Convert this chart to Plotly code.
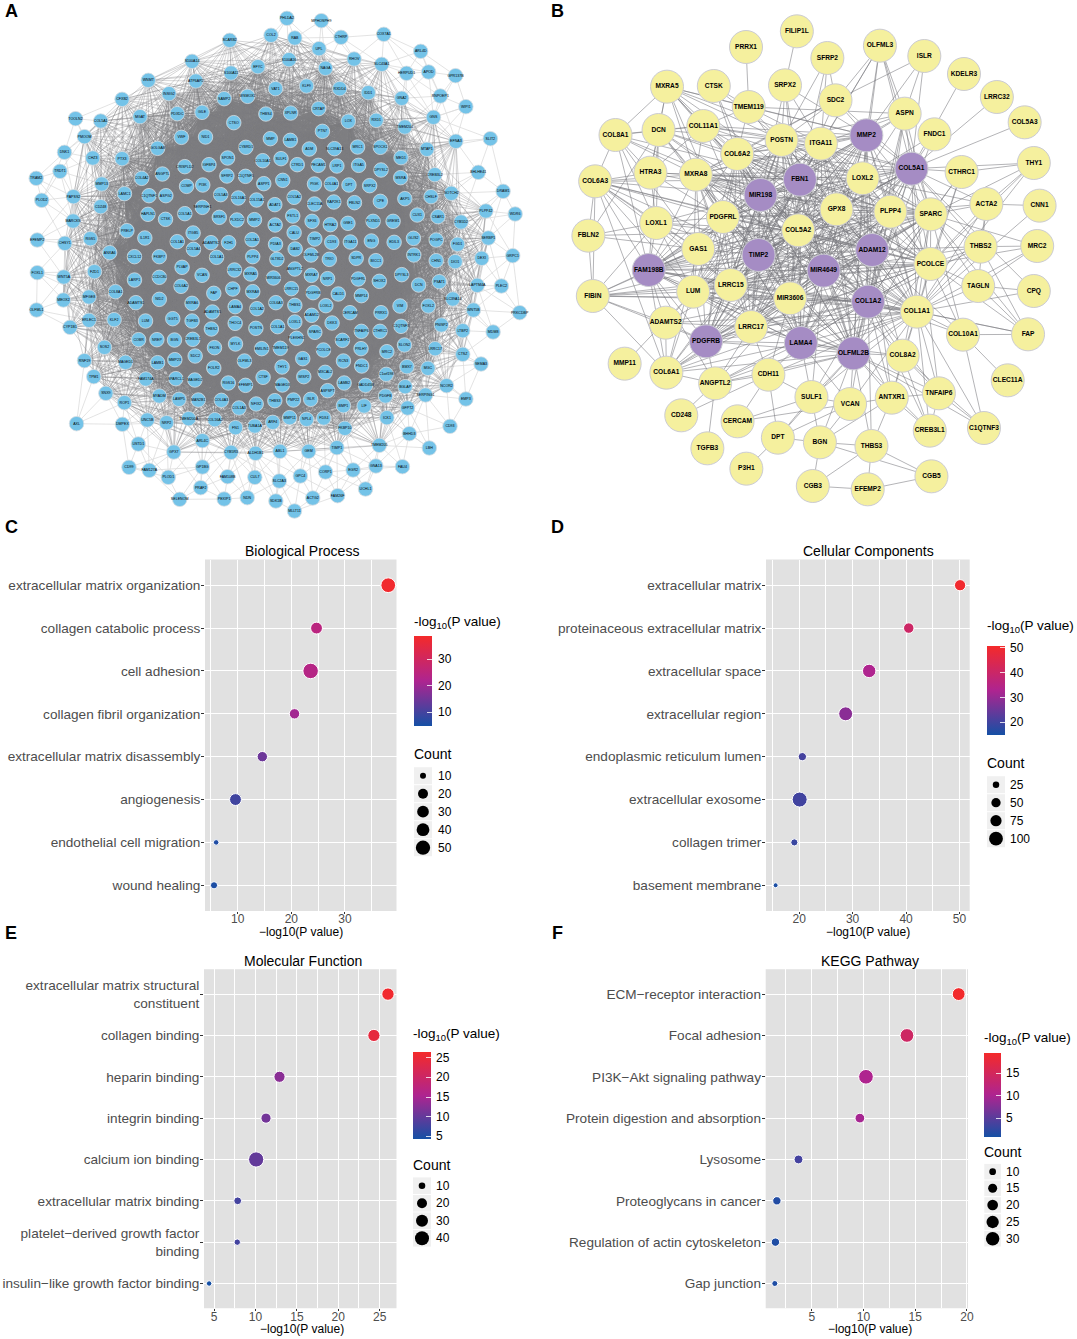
import numpy as np
import plotly.graph_objects as go

PAGE_W = 1077
PAGE_H = 1339

# ---- panel A nodes (crop px, top half)
a_top_names = ["PHLDA2","MPHOSPH9","COL2","RAB","COX7A1","CTHRP","SCARB2","UPL","ARL4D","RHOV",
    "S100A16","S100A14","SLC43A1","EFYC","NAGA","S100A11","HERPUD1","APOD","GPR137B","WNMT",
    "ATP6AP2","KLF9","VAT1","RXDD4","IDD1","INSIG2","RNPOEP1","WSMOX1","SAMP2","GNA2",
    "CFXB2","WIPI1","CRTAP","GILE","XPLNR","PDXDC","THBS4","MGAT","GNS","TOOLN2",
    "RXD1","COL5A1","LOX","CTSO","TMEM204","PTN7","PMOOM","NID1","VWF","SLIT2",
    "MMP","LAMB1","EFNA3","MRC1","SPOCK1","CYBRD1","GOLGA8","ADM","SLC39A13","MTAP1",
    "DNK1","SPON1","MED1","PTX3","CHZ3","COL10A1","SULF1","CTRD1","PECAM1","LRP1",
    "ITGA5","IGFBP4","DPYSL2","CRISPLD2","TRDT1","CREB3L2","BHLHE41","ANGPTL","COL4A2","TRAM2",
    "MSRA","SFRP2","C1QTNF5","CNN1","ASPP1","DPT","COL4A1","PIGK","SRPX2","PI3K",
    "COMP","MMP13","DRAM1","CHSLF","NOTCH2","AKP5","CPE","FBLN2","RAP2K1","CLEC11A",
    "COL5A2","ADAT1","COL15A1","COL16A1","COL5A3","SERPINH1","ASPG2","C1QTNF1","LAMC1","PAPSS2",
    "PLOD2","CD248","PLPP42","WDR6","CYB5D2","CSAR1","CUX1","GREM1","PLXND1","GSE1",
    "HTRA2","SFX6","FSTL1","ACTA2","MMP2","PLXDC2","BRSF1","COL5A1","CTSK","HAPLN1",
    "MARCKS","PRELP","SERBP1","CALU","ITGB5","EFEMP2","RGS5","CHSY1","IL1R1","COL1A1",
    "ADAMTS2","F2H1","COL2A1","PDIA3","TIMP2","CD93","ITGA11","ENG","EDIL3","GLIS2",
    "POGPC","FGD1","DAB2","COL5A4","ANXA6","CXCL12","FKBP7","COL1A1","PLPP4","GLT8D2",
    "OLFML2B","TRIO","SDPR","BICC1","INTRK1","CHN1","DIO1","DEXI","GRPC1"]
a_top_x = [832,932,786,855,1113,989,666,925,1220,1027,
    838,557,1107,748,944,670,1179,1243,1321,430,
    568,889,799,985,1068,490,1277,718,650,1165,
    354,1351,924,586,843,514,771,406,1257,219,
    1091,292,1010,678,1174,935,245,596,526,1422,
    784,842,1322,1037,1103,713,457,897,970,1238,
    187,660,1163,354,269,762,815,862,923,977,
    1040,606,1105,536,174,1261,1387,471,411,105,
    1162,658,712,820,765,1012,961,912,1072,588,
    541,295,1459,1250,1309,1174,1103,1028,968,912,
    853,797,744,691,640,587,481,432,361,213,
    121,292,1409,1494,1337,1270,1210,1140,1082,1009,
    958,905,849,798,738,687,636,536,480,429,
    212,368,1416,853,560,108,262,188,420,514,
    612,663,731,799,913,962,1016,1077,1143,1199,
    1265,1327,856,561,318,390,462,628,733,803,
    902,955,1033,1090,1200,1265,1320,1397,1487]
a_top_y = [55,62,106,114,103,112,121,146,154,177,
    179,184,193,200,205,219,220,216,227,241,
    243,258,266,266,278,281,288,289,296,295,
    298,320,326,337,339,341,342,350,352,356,
    361,363,364,368,381,394,410,411,412,416,
    416,421,424,441,442,442,445,447,446,448,
    457,474,473,476,474,482,476,494,496,498,
    496,494,510,500,514,524,517,522,535,535,
    533,528,529,541,551,555,552,552,557,555,
    559,552,574,590,580,596,604,608,606,612,
    592,614,600,594,584,622,587,587,581,590,
    601,620,633,642,666,650,645,664,664,670,
    674,664,648,675,659,660,652,641,658,643,
    663,692,714,698,699,720,716,730,714,725,
    728,728,719,733,717,727,726,723,727,715,
    720,733,747,748,758,770,770,772,770,778,
    765,778,775,782,765,782,785,775,767]

# bottom half, y counted from the second crop
a_bot_names = ["FOXL1","WNT5A","FZD1","LARP1","CCDC80","PLVAP","VCAN","LRRC32","MXRA5","MIR3606",
    "ANGPTL2","MXRA7","NRP1","PDGFRL","SHOX2","DPYSL3","DCN","PSAT1","LAPTM4A","PLEC2",
    "COL6A2","COL8A1","MEOX2","MFGE8","MXRA8","FAP","CHPF","LRRC15","PDGFRB","CALD1",
    "MMP14","SLC39A14","NID2","ADAMTS1","MXRA6","COL6A3","THBS1","LOXL2","VIM","FOXL2",
    "OLFML1","WNT5B","ADAMTS5","LAMA4","COL1A2","PRRX1","CERCAM","PRKCDBP","ADAM12","GGT5",
    "TGFB3","KLF2","LUM","ERLEC1","LOXL1","DKK3","THOC4","CYP1B1","COL1A1","POSTN",
    "THBS2","PNISP2","LTBP2","C1QTNF3","MDM8","TNFAIP6","CTHRC1","SPARC","CREB3L1","COBR",
    "NREP","BGN","PLEKHN1","SCARF2","FKON","MYLK","SLON2","SOS2","LRRC17","EMILIN1",
    "TMEM119","PCOLCE","PRLHY","MRC2","CTSZ","SDC2","RNF19","MMP23","MAGED1","LAMB1",
    "OLFML3","GAS1","RCN3","FNDC1","SEMA3","BMX7","FOLR2","THY1","MXCAL2","MGC",
    "SPARCL1","MAGED2","FAM174A","TPM1","CTSF","WISP2","C1orf198","RGS16","EFEMP1","LAMB2",
    "GADD45B","MAGED3","NCOR2","ASPSPT","BGLAP","PDGFB","SERPING1","SNX9","MYADM","ROP1",
    "LAMP5","MAN2B1","COL4A3","NFIX2","THBS3","PMP22","ISLR","BMP1","LIF","GFPT2",
    "EMP3","COL1A3","UNC5B","TMEM200A","COL16A2","NRP2","MMP11","NPL4","FDX4","ARF4",
    "TUBA1A","FN1","AXL","DMPEX","ICK1","FKBP10","CD93","BHHD3","USTD1","ARL4C",
    "GPX7","CYB5R3","ALDH1B1","ABL1","GEM","TIMP1","TMEM205","LBH","FAU4","GNA13",
    "EGR2","CORP1","GPC4","CD99","FAM127A","PLOD1","GP1BG","FAM108B","CUL7","SLC2A3",
    "PRAF2","UCHL1","FAM26F","ACTG2","SDK1B","NDN","PEXIP1","SELENOM","MLLT11"]
a_bot_x = [108,185,274,390,462,528,586,680,727,793,
    855,903,950,1039,1100,1165,1214,1274,1384,1454,
    525,335,184,258,733,620,675,845,908,981,
    1048,1313,462,394,557,800,855,945,1160,1242,
    106,1373,616,682,745,1105,1015,1507,904,501,
    557,331,422,258,855,963,682,203,805,742,
    613,1280,1342,1163,1430,1048,1102,913,559,402,
    455,506,860,993,622,683,1173,303,1262,759,
    813,938,1047,1122,1342,566,245,507,364,457,
    709,878,996,1049,1395,1180,620,818,943,1241,
    510,565,423,272,763,881,1120,662,712,998,
    1060,819,1295,950,1175,1118,1234,307,462,361,
    519,575,642,743,797,851,901,996,1056,1182,
    1351,693,427,547,623,483,840,889,939,791,
    739,683,222,355,1122,1000,1305,1187,401,587,
    504,670,741,812,895,977,1100,1245,1167,1090,
    1024,944,871,374,433,488,587,660,739,810,
    582,1060,979,907,800,717,650,521,854]
a_bot_y = [38,51,35,60,52,22,46,30,42,54,
    27,46,56,57,64,44,75,65,76,78,
    79,95,120,111,95,100,87,86,98,102,
    107,117,118,128,130,128,136,137,138,138,
    150,150,156,140,146,158,158,158,166,176,
    183,179,183,181,186,189,190,202,200,205,
    207,195,212,199,216,214,214,217,238,239,
    239,240,235,241,263,252,255,262,266,266,
    265,270,266,275,283,288,302,299,307,308,
    303,296,303,318,312,320,324,321,337,325,
    356,360,357,350,352,350,343,369,376,369,
    376,375,377,392,380,408,405,400,408,428,
    418,420,421,432,422,420,418,437,438,444,
    417,444,480,476,479,488,473,478,474,487,
    498,503,491,493,473,505,499,521,552,542,
    576,577,580,574,574,563,556,564,620,618,
    630,636,648,622,631,652,621,650,652,663,
    683,687,707,714,723,713,717,718,753]

# ---- panel B nodes (crop px)
b_top_names = ["FILIP1L","PRRX1","SFRP2","OLFML3","ISLR","KDELR3","LRRC32","COL5A3","SRPX2","SDC2",
    "MXRA5","CTSK","TMEM119","ASPN","COL8A1","DCN","COL11A1","POSTN","ITGA11","MMP2",
    "FNDC1","COL6A2","COL5A1","CTHRC1","THY1","FBN1","LOXL2","COL6A3","HTRA3","MXRA8",
    "MIR198","GPX8","PLPP4","SPARC","ACTA2","CNN1","PDGFRL","LOXL1","COL5A2","FBLN2",
    "GAS1","TIMP2","ADAM12","THBS2","MRC2"]
b_top_x = [743,593,833,988,1119,1236,1333,1415,708,857,
    360,498,601,1061,208,335,467,698,814,948,
    1149,567,1081,1229,1442,752,937,148,311,445,
    636,860,1019,1138,1302,1459,525,328,747,128,
    452,630,965,1285,1452]
b_top_y = [94,141,174,137,168,222,291,367,256,301,
    260,258,321,341,405,390,378,420,431,406,
    403,462,506,516,489,539,535,544,518,524,
    585,628,635,643,612,617,651,669,691,707,
    747,765,750,740,738]
b_bot_names = ["MIR4649","FAM198B","PCOLCE","TAGLN","CPQ","FIBIN","LUM","LRRC15","MIR3606","COL1A2",
    "COL1A1","ADAMTS2","LRRC17","FAP","COL10A1","PDGFRB","LAMA4","OLFML2B","COL8A2","MMP11",
    "COL6A1","CDH11","ANGPTL2","CLEC11A","SULF1","VCAN","ANTXR1","TNFAIP6","CD248","CERCAM",
    "CREB3L1","C1QTNF3","DPT","TGFB3","BGN","THBS3","P3H1","CGB5","CGB3","EFEMP2"]
b_bot_x = [822,306,1137,1278,1442,141,437,548,723,953,
    1097,356,608,1425,1233,475,755,910,1055,235,
    358,659,502,1365,786,900,1023,1162,402,568,
    1135,1295,687,479,811,963,594,1140,790,952]
b_bot_y = [32,30,12,78,93,108,95,75,115,125,
    155,188,201,223,224,244,249,280,287,311,
    338,344,370,361,411,432,413,400,466,484,
    512,504,533,565,547,558,626,649,678,688]
b_hubs = ["MMP2","COL5A1","FBN1","MIR198","TIMP2","ADAM12","MIR4649","FAM198B","COL1A2","PDGFRB","LAMA4","OLFML2B"]

# edges that can be followed by eye around the rim of B
b_edges = """FILIP1L-SRPX2 PRRX1-TMEM119 SFRP2-POSTN SFRP2-ITGA11 SFRP2-SDC2 SFRP2-FBN1
OLFML3-SDC2 OLFML3-ASPN OLFML3-MMP2 OLFML3-ITGA11 OLFML3-COL5A1 OLFML3-LOXL2 OLFML3-SPARC OLFML3-FBN1
ISLR-SDC2 ISLR-ASPN ISLR-MMP2 ISLR-COL5A1 KDELR3-COL5A1 LRRC32-COL5A1 COL5A3-COL5A1
FNDC1-COL5A1 FNDC1-COL1A2 FNDC1-LOXL2 SRPX2-POSTN SRPX2-COL5A2 SRPX2-FBN1 SRPX2-ITGA11 SRPX2-MIR198 SRPX2-MMP2
SDC2-MMP2 SDC2-POSTN SDC2-FBN1 SDC2-COL6A2 SDC2-COL5A1 SDC2-MXRA8
MXRA5-COL8A1 MXRA5-DCN MXRA5-COL11A1 MXRA5-HTRA3 MXRA5-MXRA8 MXRA5-TMEM119 MXRA5-POSTN MXRA5-COL6A2
MXRA5-ITGA11 MXRA5-MMP2 MXRA5-FBN1 MXRA5-PDGFRL MXRA5-COL5A2 MXRA5-MIR198
CTSK-TMEM119 CTSK-POSTN CTSK-COL6A2 CTSK-MIR198 TMEM119-POSTN TMEM119-ITGA11 TMEM119-MMP2 TMEM119-ASPN
TMEM119-COL11A1 TMEM119-COL6A2 TMEM119-FBN1 ASPN-MMP2 ASPN-COL5A1 ASPN-SPARC ASPN-LOXL2 ASPN-PLPP4 ASPN-FBN1
ASPN-ITGA11 ASPN-POSTN ASPN-COL1A2 ASPN-ADAM12 COL8A1-DCN COL8A1-COL11A1 COL8A1-COL6A3 COL8A1-HTRA3 COL8A1-MXRA8
COL8A1-MIR198 COL8A1-FAM198B COL8A1-LOXL1 COL8A1-GAS1 COL8A1-FBN1 DCN-COL11A1 DCN-HTRA3 DCN-MXRA8 DCN-COL6A2
DCN-COL5A2 DCN-POSTN DCN-MIR198 DCN-LOXL1 DCN-FBN1 DCN-TIMP2 DCN-PDGFRL DCN-FBLN2 DCN-FAM198B
COL11A1-COL6A2 COL11A1-POSTN COL11A1-ITGA11 COL11A1-FBN1 COL11A1-MXRA8 COL11A1-MIR198 COL11A1-COL5A2 COL11A1-LOXL2
COL11A1-MMP2 COL11A1-HTRA3 COL11A1-TIMP2 COL11A1-COL1A2 COL6A3-HTRA3 COL6A3-MXRA8 COL6A3-LOXL1 COL6A3-FBLN2
COL6A3-PDGFRL COL6A3-GAS1 COL6A3-TIMP2 COL6A3-FAM198B COL6A3-MIR198 COL6A3-FBN1 COL6A3-LUM COL6A3-LRRC15
COL6A3-COL5A2 COL6A3-ADAM12 COL6A3-COL6A1 HTRA3-MXRA8 HTRA3-LOXL1 HTRA3-PDGFRL HTRA3-MIR198 HTRA3-FBN1
FBLN2-LOXL1 FBLN2-GAS1 FBLN2-COL5A2 FBLN2-FIBIN LOXL1-FAM198B LOXL1-GAS1 LOXL1-TIMP2 LOXL1-LUM LOXL1-MIR198
LOXL1-PDGFRL LOXL1-COL5A2 LOXL1-LRRC15 LOXL1-ADAM12 GAS1-TIMP2 GAS1-LUM GAS1-LRRC15 GAS1-MIR198 GAS1-FAM198B
GAS1-PDGFRL GAS1-COL6A1 GAS1-COL5A2 FIBIN-FAM198B FIBIN-LUM FIBIN-LRRC15 FIBIN-MIR3606 FIBIN-GAS1 FIBIN-LOXL1
FIBIN-COL6A3 FIBIN-ADAMTS2 FIBIN-COL6A1 FIBIN-TIMP2 FIBIN-COL1A2 FIBIN-MIR4649 FIBIN-PDGFRB MMP11-LUM
ADAMTS2-LUM ADAMTS2-FAM198B ADAMTS2-PDGFRB ADAMTS2-LRRC17 ADAMTS2-LRRC15 ADAMTS2-COL6A1 ADAMTS2-MIR3606 ADAMTS2-COL1A1
COL6A1-PDGFRB COL6A1-LUM COL6A1-LRRC17 COL6A1-LAMA4 COL6A1-MIR3606 COL6A1-FAM198B COL6A1-LRRC15 COL6A1-OLFML2B
COL6A1-COL1A2 COL6A1-TIMP2 COL6A1-MIR4649 COL6A1-ANGPTL2 ANGPTL2-PDGFRB ANGPTL2-LRRC17 ANGPTL2-LAMA4 ANGPTL2-CDH11
ANGPTL2-CD248 ANGPTL2-TGFB3 ANGPTL2-MIR3606 ANGPTL2-COL1A2 ANGPTL2-COL1A1 ANGPTL2-OLFML2B ANGPTL2-FAM198B
CDH11-LAMA4 CDH11-LRRC17 CDH11-DPT CDH11-CERCAM CDH11-OLFML2B CDH11-SULF1 CDH11-COL1A1 CDH11-MIR3606 CDH11-CD248
CERCAM-SULF1 CERCAM-VCAN SULF1-LAMA4 SULF1-OLFML2B SULF1-VCAN SULF1-BGN SULF1-DPT SULF1-COL1A2 SULF1-MIR4649 SULF1-COL1A1
VCAN-OLFML2B VCAN-BGN VCAN-LAMA4 VCAN-COL1A2 VCAN-COL1A1 VCAN-ANTXR1 DPT-BGN DPT-P3H1 DPT-VCAN DPT-OLFML2B
BGN-THBS3 BGN-CGB3 BGN-OLFML2B BGN-ANTXR1 BGN-CGB5 THBS3-CGB3 THBS3-EFEMP2 THBS3-CGB5 THBS3-ANTXR1 THBS3-OLFML2B
THBS3-COL1A2 CGB3-EFEMP2 EFEMP2-CGB5 ANTXR1-OLFML2B ANTXR1-COL1A1 ANTXR1-COL8A2 ANTXR1-CREB3L1 ANTXR1-TNFAIP6
ANTXR1-COL1A2 ANTXR1-MIR4649 ANTXR1-ADAM12 COL8A2-COL1A1 COL8A2-COL1A2 COL8A2-OLFML2B COL8A2-TNFAIP6 COL8A2-CREB3L1
COL8A2-LAMA4 COL8A2-MIR4649 COL8A2-C1QTNF3 COL8A2-ADAM12 COL8A2-SPARC TNFAIP6-OLFML2B TNFAIP6-COL1A1 TNFAIP6-C1QTNF3
TNFAIP6-CREB3L1 TNFAIP6-COL1A2 TNFAIP6-COL5A1 CREB3L1-OLFML2B CREB3L1-COL1A1 CREB3L1-COL1A2 C1QTNF3-COL10A1
C1QTNF3-COL1A1 C1QTNF3-OLFML2B CLEC11A-COL10A1 COL10A1-COL1A1 COL10A1-PCOLCE COL10A1-FAP COL10A1-SPARC COL10A1-COL1A2
COL10A1-ADAM12 FAP-COL1A1 FAP-PCOLCE FAP-TAGLN FAP-THBS2 FAP-COL1A2 FAP-SPARC CPQ-TAGLN CPQ-COL1A1 CPQ-COL5A1
TAGLN-PCOLCE TAGLN-COL1A1 TAGLN-MRC2 TAGLN-SPARC TAGLN-ACTA2 MRC2-THBS2 MRC2-COL1A1 MRC2-PCOLCE MRC2-SPARC
THBS2-PCOLCE THBS2-SPARC THBS2-ACTA2 THBS2-COL1A1 THBS2-ADAM12 THBS2-COL5A1 THBS2-COL1A2 THBS2-MIR4649
ACTA2-CNN1 ACTA2-SPARC ACTA2-THY1 ACTA2-PCOLCE ACTA2-COL1A1 ACTA2-COL5A1 ACTA2-LOXL2 ACTA2-PLPP4 THY1-SPARC
THY1-CTHRC1 THY1-COL1A1 THY1-COL5A1 THY1-PCOLCE CNN1-COL1A1 CTHRC1-COL5A1 CTHRC1-SPARC CTHRC1-COL1A1 CTHRC1-COL1A2 CTHRC1-PCOLCE""".split()
# the middle of B is too tangled to follow, so this group is linked all to all
b_core = ["FBN1","MIR198","TIMP2","MIR4649","COL1A2","ADAM12","COL5A1","MMP2","LOXL2","GPX8",
    "COL5A2","MIR3606","LRRC15","LUM","LRRC17","LAMA4","OLFML2B","PDGFRB","FAM198B","PDGFRL",
    "PLPP4","SPARC","PCOLCE","COL1A1","COL6A2","POSTN","ITGA11","MXRA8"]

# ---- dot plots
c_terms = ["extracellular matrix organization","collagen catabolic process","cell adhesion","collagen fibril organization",
    "extracellular matrix disassembly","angiogenesis","endothelial cell migration","wound healing"]
c_values = [38.06,24.7,23.6,20.6,14.6,9.6,6.0,5.6]
c_counts = [45,24,50,18,18,24,6,10]
d_terms = ["extracellular matrix","proteinaceous extracellular matrix","extracellular space","extracellular region",
    "endoplasmic reticulum lumen","extracellular exosome","collagen trimer","basement membrane"]
d_values = [50.1,40.5,33.1,28.7,20.6,20.1,19.1,15.6]
d_counts = [60,50,85,90,30,110,22,10]
e_terms = ["extracellular matrix structural<br>constituent","collagen binding","heparin binding","integrin binding",
    "calcium ion binding","extracellular matrix binding","platelet\u2212derived growth factor<br>binding","insulin\u2212like growth factor binding"]
e_values = [26.0,24.3,12.9,11.27,10.08,7.85,7.8,4.4]
e_counts = [26,25,20,17,40,10,7,5]
f_terms = ["ECM\u2212receptor interaction","Focal adhesion","PI3K\u2212Akt signaling pathway","Protein digestion and absorption",
    "Lysosome","Proteoglycans in cancer","Regulation of actin cytoskeleton","Gap junction"]
f_values = [19.2,14.2,10.24,9.65,3.72,1.63,1.49,1.43]
f_counts = [23,26,31,14,12,11,11,6]

FONT = "Liberation Sans"
SCALE = [[0, "#1550a5"], [0.5, "#ae2490"], [1, "#f42a2a"]]

fig = go.Figure()


def overlay_text(x, y, text, size, color="black", anchor="left", bold=False):
    if bold:
        text = "<b>" + text + "</b>"
    if anchor == "left":
        x = x - 2.5
    fig.add_annotation(xref="x5", yref="y5", x=x, y=y, text=text, showarrow=False, xanchor=anchor, yanchor="middle",
                       font=dict(family=FONT, size=size, color=color))


def add_panel(n, terms, values, counts, panel, xrange, xticks, minor, cbar, legend, titles):
    left, right, top, bottom = panel
    xname = "xaxis" if n == 1 else "xaxis%d" % n
    yname = "yaxis" if n == 1 else "yaxis%d" % n
    ref = "" if n == 1 else str(n)
    # legend keys set the size scale, dots below the smallest key run down to a small anchor
    diam = np.interp(counts, [0] + legend["counts"], [2] + legend["diams"])
    cx0, cx1, cy0, cy1, cmin, cmax, cticks = cbar
    fig.add_trace(go.Scatter(x=values, y=terms, xaxis="x" + ref, yaxis="y" + ref, mode="markers", showlegend=False,
        marker=dict(size=diam + 1.2, color=values, colorscale=SCALE, cmin=cmin, cmax=cmax, opacity=1, line=dict(color="white", width=1),
            colorbar=dict(x=cx0 / PAGE_W, xanchor="left", y=1 - cy0 / PAGE_H, yanchor="top", len=(cy1 - cy0) / PAGE_H,
                thickness=cx1 - cx0, xpad=0, ypad=0, outlinewidth=0, tickvals=cticks, ticks="inside", ticklen=5,
                tickcolor="rgba(255,255,255,0.8)", showticklabels=False))))
    fig.update_layout({
        xname: dict(domain=[left / PAGE_W, right / PAGE_W], range=xrange, tickvals=xticks, anchor="y" + ref,
                    showgrid=True, gridcolor="white", gridwidth=1.3, zeroline=False, showline=False, ticks="outside",
                    ticklen=2, tickcolor="#333333", ticklabelstandoff=-5, tickfont=dict(family=FONT, size=12, color="#4d4d4d"),
                    minor=dict(tickvals=minor, showgrid=True, gridcolor="white", gridwidth=0.6, ticks="")),
        yname: dict(domain=[1 - bottom / PAGE_H, 1 - top / PAGE_H], type="category", categoryorder="array",
                    categoryarray=terms, range=[7.6, -0.6], anchor="x" + ref, showgrid=True, gridcolor="white",
                    gridwidth=1.3, zeroline=False, showline=False, ticks="outside", ticklen=3, tickcolor="#333333",
                    ticklabelstandoff=-2, tickfont=dict(family=FONT, size=13.6, color="#4d4d4d")),
    })
    fig.add_shape(type="rect", xref="x%s domain" % ref, yref="y%s domain" % ref, x0=0, x1=1, y0=0, y1=1,
                  fillcolor="#e1e1e1", line_width=0, layer="below")
    # titles
    overlay_text(titles["tx"], titles["ty"], titles["title"], 14, anchor="center")
    overlay_text(titles["lx"], titles["ly"], "\u2212log10(P value)", 12, anchor="center")
    overlay_text(cx0, titles["cy"], "-log<sub>10</sub>(P value)", 13.5)
    overlay_text(cx0, titles["ky"], "Count", 14)
    # colour bar labels, same column as the size legend labels
    for v in cticks:
        overlay_text(legend["lx"], cy1 - (v - cmin) / (cmax - cmin) * (cy1 - cy0), str(v), 12)
    # size legend
    kh = legend["ys"][1] - legend["ys"][0]
    for y in legend["ys"]:
        fig.add_shape(type="rect", xref="x5", yref="y5", x0=cx0, x1=cx1, y0=y - kh / 2 + 0.5, y1=y + kh / 2 - 0.5,
                      fillcolor="#f0f0f0", line_width=0, layer="below")
    fig.add_trace(go.Scatter(x=[(cx0 + cx1) / 2] * len(legend["ys"]), y=legend["ys"], xaxis="x5", yaxis="y5", mode="markers",
                             showlegend=False, marker=dict(size=legend["diams"], color="black", opacity=1, line_width=0)))
    for y, c in zip(legend["ys"], legend["counts"]):
        overlay_text(legend["lx"], y, str(c), 12)


add_panel(1, c_terms, c_values, c_counts, (205, 396.5, 559.5, 911), [3.92, 39.6], [10, 20, 30], [5, 15, 25, 35],
          (414, 432, 636, 726, 4.8, 38.8, [10, 20, 30]),
          dict(counts=[10, 20, 30, 40, 50], diams=[6, 10, 11.7, 12.8, 14.3], ys=[775.7, 793.7, 811.7, 829.7, 847.7], lx=438),
          dict(title="Biological Process", tx=301.5, ty=550.7, lx=301, ly=932.3, cy=622, ky=754.3))
add_panel(2, d_terms, d_values, d_counts, (766, 969.7, 559.5, 911), [13.8, 51.9], [20, 30, 40, 50], [15, 25, 35, 45],
          (987, 1005, 645.7, 735, 14.9, 50.9, [20, 30, 40, 50]),
          dict(counts=[25, 50, 75, 100], diams=[6.5, 9.3, 11.2, 13.8], ys=[784.7, 802.7, 820.7, 838.7], lx=1010),
          dict(title="Cellular Components", tx=868.7, ty=550.7, lx=868, ly=932.3, cy=626.7, ky=763.3))
add_panel(3, e_terms, e_values, e_counts, (204, 396.5, 969.3, 1308.3), [3.78, 27.03], [5, 10, 15, 20, 25], [7.5, 12.5, 17.5, 22.5],
          (413, 431, 1051.7, 1138.3, 4.5, 26.5, [5, 10, 15, 20, 25]),
          dict(counts=[10, 20, 30, 40], diams=[6.6, 10, 12, 14], ys=[1185.7, 1203.3, 1220.7, 1238.3], lx=436.5),
          dict(title="Molecular Function", tx=303.4, ty=961, lx=302, ly=1328.7, cy=1034.7, ky=1165.3))
add_panel(4, f_terms, f_values, f_counts, (765.7, 968, 969.3, 1308.3), [0.55, 20.1], [5, 10, 15, 20], [2.5, 7.5, 12.5, 17.5],
          (984.3, 1001, 1053.3, 1137, 0.86, 19.4, [5, 10, 15]),
          dict(counts=[10, 15, 20, 25, 30], diams=[6.7, 9, 10.7, 12.3, 13.5], ys=[1171.7, 1188.3, 1205, 1222, 1238.7], lx=1006),
          dict(title="KEGG Pathway", tx=870.4, ty=961, lx=870.4, ly=1328.7, cy=1038.3, ky=1152))

# ---- network A: crop px back to page px
ax = np.array(a_top_x + a_bot_x) / 2.9
ay = np.array([y / 3 for y in a_top_y] + [260 + y / 3 for y in a_bot_y])
a_names = a_top_names + a_bot_names

# Single edges of A cannot be read in the hairball. Each node is linked to its nearest
# nodes further in, which gives the same fans and the same solid core.
rad = np.hypot(ax - 270, ay - 255)
edge_x = [[], [], [], []]
edge_y = [[], [], [], []]
rim_x, rim_y = [], []
count = 0
for i in range(len(ax)):
    if rad[i] < 165:
        inner = np.where(rad < 165)[0]
        inner = inner[inner != i]
    else:
        inner = np.where(rad < rad[i] - 4)[0]
    if len(inner) == 0:
        continue
    order = inner[np.argsort(np.hypot(ax[inner] - ax[i], ay[inner] - ay[i]))]
    if rad[i] > 222:
        picks, rim = order[:5], True
    elif rad[i] > 195:
        picks, rim = order[:24], False
    elif rad[i] > 165:
        picks, rim = order[:60], False
    else:
        picks, rim = order[:150], False
    for j in picks:
        if rim:
            rim_x += [ax[i], ax[j], None]
            rim_y += [ay[i], ay[j], None]
        else:
            edge_x[count % 4] += [ax[i], ax[j], None]
            edge_y[count % 4] += [ay[i], ay[j], None]
            count += 1

fig.add_trace(go.Scatter(x=rim_x, y=rim_y, xaxis="x5", yaxis="y5", mode="lines", showlegend=False,
                         line=dict(color="#dcdcdc", width=0.8)))
for k in range(4):
    fig.add_trace(go.Scatter(x=edge_x[k], y=edge_y[k], xaxis="x5", yaxis="y5", mode="lines", showlegend=False,
                             line=dict(color="rgba(125,125,130,0.55)", width=0.6)))
fig.add_trace(go.Scatter(x=ax, y=ay, text=a_names, xaxis="x5", yaxis="y5", mode="markers+text", showlegend=False,
                         textposition="middle center", textfont=dict(family=FONT, size=3.6, color="black"),
                         marker=dict(size=14.5, color="#74c3e8", line=dict(color="#d5dde2", width=0.8))))

# ---- network B
bx = 545 + np.array(b_top_x + b_bot_x) / 2.95
by = np.array([y / 3 for y in b_top_y] + [260 + y / 3 for y in b_bot_y])
b_names = b_top_names + b_bot_names
b_pos = {n: (x, y) for n, x, y in zip(b_names, bx, by)}
b_pairs = [tuple(e.split("-")) for e in b_edges]
for a in range(len(b_core)):
    for b in range(a + 1, len(b_core)):
        b_pairs.append((b_core[a], b_core[b]))
ex, ey = [], []
for a, b in b_pairs:
    ex += [b_pos[a][0], b_pos[b][0], None]
    ey += [b_pos[a][1], b_pos[b][1], None]
fig.add_trace(go.Scatter(x=ex, y=ey, xaxis="x5", yaxis="y5", mode="lines", showlegend=False,
                         line=dict(color="rgba(120,120,125,0.7)", width=0.8)))
b_colors = ["#a58cc4" if n in b_hubs else "#f5f09e" for n in b_names]
fig.add_trace(go.Scatter(x=bx, y=by, text=["<b>%s</b>" % n for n in b_names], xaxis="x5", yaxis="y5", mode="markers+text", showlegend=False,
                         textposition="middle center", textfont=dict(family=FONT, size=6.6, color="black"),
                         marker=dict(size=33, color=b_colors, line=dict(color="#cbcbd3", width=1))))

# panel letters
for letter, x, y in [("A", 11, 10.5), ("B", 557, 10.5), ("C", 11.5, 527), ("D", 557, 527), ("E", 11, 933), ("F", 557, 933)]:
    overlay_text(x, y, letter, 18, anchor="center", bold=True)

fig.update_layout(
    width=PAGE_W, height=PAGE_H, margin=dict(l=0, r=0, t=0, b=0, pad=0, autoexpand=False), autosize=False,
    paper_bgcolor="white", plot_bgcolor="rgba(0,0,0,0)", showlegend=False,
    xaxis5=dict(domain=[0, 1], range=[0, PAGE_W], visible=False, anchor="y5", fixedrange=True),
    yaxis5=dict(domain=[0, 1], range=[PAGE_H, 0], visible=False, anchor="x5", fixedrange=True),
)

fig.write_html("out.html", post_script="document.body.style.margin='0';", config=dict(displayModeBar=False))
